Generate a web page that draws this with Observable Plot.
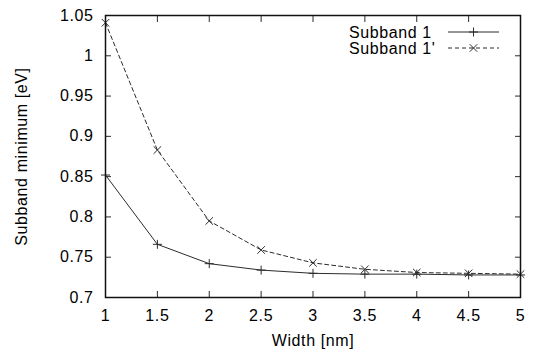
<!DOCTYPE html>
<html><head><meta charset="utf-8">
<script src="https://cdn.jsdelivr.net/npm/d3@7"></script>
<script src="https://cdn.jsdelivr.net/npm/@observablehq/plot@0.6"></script>
<style>
body{margin:0;background:#fff}
svg{font-family:"Liberation Sans",Arial,sans-serif}
</style>
</head><body><div id="chart"></div>
<script>
const widths = [1, 1.5, 2, 2.5, 3, 3.5, 4, 4.5, 5];
const subband1 = [0.852, 0.766, 0.742, 0.734, 0.730, 0.729, 0.729, 0.728, 0.728];
const subband1p = [1.041, 0.883, 0.795, 0.759, 0.743, 0.735, 0.731, 0.730, 0.729];
const seriesNames = ["Subband 1", "Subband 1'"];
const xTicks = [1, 1.5, 2, 2.5, 3, 3.5, 4, 4.5, 5];
const xTickLabels = ["1", "1.5", "2", "2.5", "3", "3.5", "4", "4.5", "5"];
const yTicks = [0.7, 0.75, 0.8, 0.85, 0.9, 0.95, 1, 1.05];
const yTickLabels = ["0.7", "0.75", "0.8", "0.85", "0.9", "0.95", "1", "1.05"];
const xLabel = "Width [nm]";
const yLabel = "Subband minimum [eV]";

const rows1 = widths.map((w, i) => ({x: w, y: subband1[i], s: seriesNames[0]}));
const rows2 = widths.map((w, i) => ({x: w, y: subband1p[i], s: seriesNames[1]}));
const xFmt = v => xTickLabels[xTicks.indexOf(v)] ?? "";
const yFmt = v => yTickLabels[yTicks.findIndex(t => Math.abs(t - v) < 1e-9)] ?? "";
const ink = "#2b2b2b";

function legend(index, scales, values, dim) {
  const right = dim.width - dim.marginRight;
  const top = dim.marginTop;
  const g = d3.create("svg:g").attr("font-size", 16).attr("letter-spacing", "0.6px");
  const items = [
    {name: seriesNames[0], dash: null, sym: d3.symbolPlus, r: 3},
    {name: seriesNames[1], dash: "4,3", sym: d3.symbolTimes, r: 3.5}
  ];
  items.forEach((it, i) => {
    const y = top + 17 + i * 16;
    g.append("text").attr("x", right - 171).attr("y", y).attr("dy", "0.35em")
      .attr("text-anchor", "start").attr("fill", "#000").text(it.name);
    g.append("line").attr("x1", right - 72).attr("x2", right - 21).attr("y1", y).attr("y2", y)
      .attr("stroke", ink).attr("stroke-width", 1).attr("stroke-dasharray", it.dash);
    g.append("path").attr("transform", `translate(${right - 46.5},${y})`)
      .attr("d", d3.symbol(it.sym, Math.PI * it.r * it.r)()).attr("fill", "none").attr("stroke", ink).attr("stroke-width", 1);
  });
  return g.node();
}

const chart = Plot.plot({
  width: 536, height: 353,
  marginLeft: 105, marginRight: 16, marginTop: 15, marginBottom: 56,
  style: {fontSize: "16px", fontFamily: "'Liberation Sans', Arial, sans-serif", background: "#fff", color: "#000", letterSpacing: "0.6px"},
  x: {domain: [1, 5]},
  y: {domain: [0.7, 1.05]},
  marks: [
    Plot.axisX({anchor: "bottom", ticks: xTicks, tickSize: 0, tickPadding: 12, tickFormat: xFmt, label: null}),
    Plot.axisX({anchor: "bottom", ticks: xTicks, tickSize: -6, tickFormat: () => "", label: null, stroke: ink}),
    Plot.axisX({anchor: "top", ticks: xTicks, tickSize: -6, tickFormat: () => "", label: null, stroke: ink}),
    Plot.axisY({anchor: "left", ticks: yTicks, tickSize: 0, tickPadding: 12, tickFormat: yFmt, label: null}),
    Plot.axisY({anchor: "left", ticks: yTicks, tickSize: -6, tickFormat: () => "", label: null, stroke: ink}),
    Plot.axisY({anchor: "right", ticks: yTicks, tickSize: -6, tickFormat: () => "", label: null, stroke: ink}),
    Plot.text([xLabel], {frameAnchor: "bottom", dy: 48, text: d => d, fill: "#000"}),
    Plot.text([yLabel], {frameAnchor: "left", dx: -84, rotate: -90, textAnchor: "middle", text: d => d, fill: "#000"}),
    Plot.line(rows1, {x: "x", y: "y", stroke: ink, strokeWidth: 1}),
    Plot.line(rows2, {x: "x", y: "y", stroke: ink, strokeWidth: 1, strokeDasharray: "4,3"}),
    Plot.dot(rows1, {x: "x", y: "y", symbol: "plus", r: 3, stroke: ink, strokeWidth: 1}),
    Plot.dot(rows2, {x: "x", y: "y", symbol: "times", r: 3.5, stroke: ink, strokeWidth: 1}),
    Plot.frame({stroke: "#111", strokeWidth: 1.5}),
    legend
  ]
});
document.getElementById("chart").append(chart);
</script>
</body></html>
